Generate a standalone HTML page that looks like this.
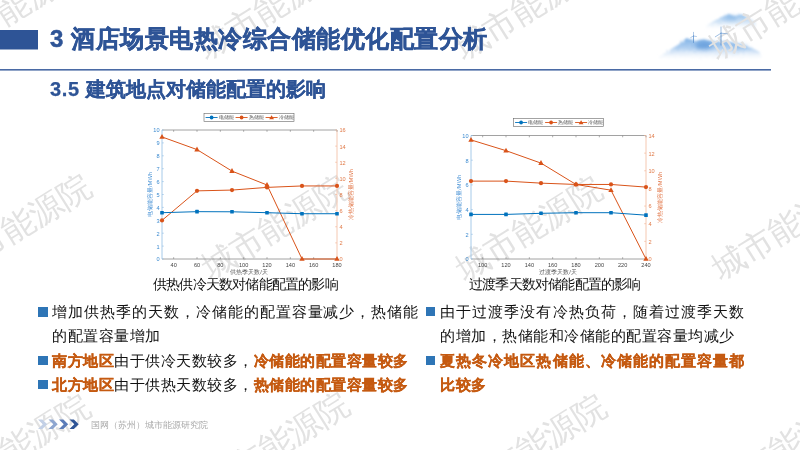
<!DOCTYPE html>
<html><head><meta charset="utf-8">
<style>
html,body{margin:0;padding:0;background:#fff;}
body{width:800px;height:450px;position:relative;overflow:hidden;font-family:"Liberation Sans",sans-serif;}
svg{position:absolute;left:0;top:0;will-change:transform;}
.wm{font-size:33px;fill:#e2e2e2;text-anchor:middle;dominant-baseline:central;font-family:"Liberation Sans",sans-serif;}
.tx{font-size:5.6px;fill:#444;text-anchor:middle;font-family:"Liberation Sans",sans-serif;}
.tl{font-size:5.6px;fill:#3b8ad0;text-anchor:end;font-family:"Liberation Sans",sans-serif;}
.tr{font-size:5.6px;fill:#e07a48;text-anchor:start;font-family:"Liberation Sans",sans-serif;}
.lg{font-size:4.7px;fill:#555;font-family:"Liberation Sans",sans-serif;}
.xl{font-size:5.7px;fill:#555;text-anchor:middle;font-family:"Liberation Sans",sans-serif;}
.yl{font-size:5.8px;fill:#4a93d6;text-anchor:middle;font-family:"Liberation Sans",sans-serif;}
.yr{font-size:5.8px;fill:#e2784a;text-anchor:middle;font-family:"Liberation Sans",sans-serif;}
.t{position:absolute;white-space:nowrap;will-change:transform;}
#title{left:50px;top:23px;font-size:24px;letter-spacing:0.5px;-webkit-text-stroke:0.5px #2e5496;font-weight:bold;color:#2e5496;}
#sub{left:50px;top:76px;font-size:20px;font-weight:bold;color:#2e5496;-webkit-text-stroke:0.25px #2e5496;}
.cap{font-size:13.8px;letter-spacing:-0.8px;color:#111;}
.bl{font-size:15px;color:#111;line-height:24px;letter-spacing:0.5px;}
.sq{position:absolute;width:9.3px;height:9.3px;background:#2e75b6;}
.or{color:#c55a11;font-weight:bold;-webkit-text-stroke:0.25px #c55a11;}
#foot{left:91px;top:418.7px;font-size:9px;color:#aaaaaa;}
</style></head><body>
<svg width="800" height="450" viewBox="0 0 800 450">
<defs>
<filter id="blur" x="-20%" y="-50%" width="140%" height="200%"><feGaussianBlur stdDeviation="2.5"/></filter>
<linearGradient id="chev" x1="0" x2="1"><stop offset="0" stop-color="#c9d6ea"/><stop offset="1" stop-color="#2e5496"/></linearGradient>
</defs>
<linearGradient id="mg1" x1="0" y1="0" x2="0" y2="1"><stop offset="0" stop-color="#7fb2e6"/><stop offset="0.45" stop-color="#b3d1f1"/><stop offset="1" stop-color="#ffffff" stop-opacity="0"/></linearGradient>
<linearGradient id="mg2" x1="0" y1="0" x2="0" y2="1"><stop offset="0" stop-color="#9cc5ee"/><stop offset="0.5" stop-color="#d5e6f7"/><stop offset="1" stop-color="#ffffff" stop-opacity="0"/></linearGradient>
<filter id="b1" x="-30%" y="-80%" width="160%" height="260%"><feTurbulence type="fractalNoise" baseFrequency="0.35" numOctaves="2" seed="4" result="n"/><feDisplacementMap in="SourceGraphic" in2="n" scale="3.5" result="d"/><feGaussianBlur in="d" stdDeviation="0.8"/></filter>
<filter id="b2" x="-50%" y="-100%" width="200%" height="300%"><feGaussianBlur stdDeviation="2.2"/></filter>
<g filter="url(#b1)">
<path d="M658,58 L668,51 L676,46 L681,43 L684,40 L687,38 L690,38.8 L693,40.5 L697,41 L700,40 L704,39.5 L708,40.5 L713,41.5 L718,41.5 L724,41 L730,42 L738,43.5 L746,46 L754,49 L760,52 L761,61 L658,61 Z" fill="url(#mg1)"/>
<path d="M706,26 C710,23 715,20 720,18 C724,15.5 728,14 731,15 C734,16 736,16.5 738,15 C741,14 744,15 747,17 C750,19 753,21 756,23 L756,30 L706,30 Z" fill="url(#mg2)"/>
</g>
<ellipse cx="704" cy="45.5" rx="9" ry="4" fill="#4a8ad4" opacity="0.6" filter="url(#b2)"/>
<ellipse cx="738" cy="46.5" rx="10" ry="2.5" fill="#6fa8e4" opacity="0.4" filter="url(#b2)"/>
<ellipse cx="731" cy="18" rx="7" ry="2.5" fill="#6ea6df" opacity="0.45" filter="url(#b2)"/>

<text transform="translate(13,8) rotate(-32)" class="wm">城市能源院</text>
<text transform="translate(270.5,7.5) rotate(-32)" class="wm">城市能源院</text>
<text transform="translate(528,8) rotate(-32)" class="wm">城市能源院</text>
<text transform="translate(782,8) rotate(-32)" class="wm">城市能源院</text>
<text transform="translate(18,226) rotate(-32)" class="wm">城市能源院</text>
<text transform="translate(274.5,227) rotate(-32)" class="wm">城市能源院</text>
<text transform="translate(529,228.5) rotate(-32)" class="wm">城市能源院</text>
<text transform="translate(785,228) rotate(-32)" class="wm">城市能源院</text>
<text transform="translate(17,446) rotate(-32)" class="wm">城市能源院</text>
<text transform="translate(276,444) rotate(-32)" class="wm">城市能源院</text>
<text transform="translate(533,446) rotate(-32)" class="wm">城市能源院</text>
<text transform="translate(786,446) rotate(-32)" class="wm">城市能源院</text>
<g stroke="#5f93cf" fill="none" stroke-linecap="round">
<line x1="693.5" y1="36" x2="693.5" y2="42.5" stroke-width="0.8"/>
<path d="M693.5,36 L690.8,37.4 M693.5,36 L696.4,36.5 M693.5,36 L693.5,32.3" stroke-width="0.5"/>
<line x1="721" y1="33.2" x2="721" y2="45" stroke-width="0.9"/>
<path d="M721,33.2 L715.3,36.8 M721,33.2 L727.3,33.8 M721,33.2 L721,27" stroke-width="0.6"/>
</g>
<rect x="0" y="30" width="38" height="19.5" fill="#2e5496"/>
<rect x="0" y="69" width="771" height="1.6" fill="#4a6aa5"/>
<line x1="162" y1="130" x2="337" y2="130" stroke="#8a8a8a" stroke-width="0.8"/>
<line x1="162" y1="259" x2="337" y2="259" stroke="#8a8a8a" stroke-width="0.8"/>
<line x1="162" y1="130" x2="162" y2="259" stroke="#9cc4e6" stroke-width="0.9"/>
<line x1="337" y1="130" x2="337" y2="259" stroke="#f4c2a8" stroke-width="0.9"/>
<line x1="173.67" y1="259" x2="173.67" y2="257.2" stroke="#8a8a8a" stroke-width="0.7"/>
<line x1="173.67" y1="130" x2="173.67" y2="131.8" stroke="#8a8a8a" stroke-width="0.7"/>
<text x="173.67" y="267" class="tx">40</text>
<line x1="197.00" y1="259" x2="197.00" y2="257.2" stroke="#8a8a8a" stroke-width="0.7"/>
<line x1="197.00" y1="130" x2="197.00" y2="131.8" stroke="#8a8a8a" stroke-width="0.7"/>
<text x="197.00" y="267" class="tx">60</text>
<line x1="220.33" y1="259" x2="220.33" y2="257.2" stroke="#8a8a8a" stroke-width="0.7"/>
<line x1="220.33" y1="130" x2="220.33" y2="131.8" stroke="#8a8a8a" stroke-width="0.7"/>
<text x="220.33" y="267" class="tx">80</text>
<line x1="243.67" y1="259" x2="243.67" y2="257.2" stroke="#8a8a8a" stroke-width="0.7"/>
<line x1="243.67" y1="130" x2="243.67" y2="131.8" stroke="#8a8a8a" stroke-width="0.7"/>
<text x="243.67" y="267" class="tx">100</text>
<line x1="267.00" y1="259" x2="267.00" y2="257.2" stroke="#8a8a8a" stroke-width="0.7"/>
<line x1="267.00" y1="130" x2="267.00" y2="131.8" stroke="#8a8a8a" stroke-width="0.7"/>
<text x="267.00" y="267" class="tx">120</text>
<line x1="290.33" y1="259" x2="290.33" y2="257.2" stroke="#8a8a8a" stroke-width="0.7"/>
<line x1="290.33" y1="130" x2="290.33" y2="131.8" stroke="#8a8a8a" stroke-width="0.7"/>
<text x="290.33" y="267" class="tx">140</text>
<line x1="313.67" y1="259" x2="313.67" y2="257.2" stroke="#8a8a8a" stroke-width="0.7"/>
<line x1="313.67" y1="130" x2="313.67" y2="131.8" stroke="#8a8a8a" stroke-width="0.7"/>
<text x="313.67" y="267" class="tx">160</text>
<line x1="337.00" y1="259" x2="337.00" y2="257.2" stroke="#8a8a8a" stroke-width="0.7"/>
<line x1="337.00" y1="130" x2="337.00" y2="131.8" stroke="#8a8a8a" stroke-width="0.7"/>
<text x="337.00" y="267" class="tx">180</text>
<line x1="162" y1="259.00" x2="163.8" y2="259.00" stroke="#9cc4e6" stroke-width="0.7"/>
<text x="159.5" y="261.40" class="tl">0</text>
<line x1="162" y1="246.10" x2="163.8" y2="246.10" stroke="#9cc4e6" stroke-width="0.7"/>
<text x="159.5" y="248.50" class="tl">1</text>
<line x1="162" y1="233.20" x2="163.8" y2="233.20" stroke="#9cc4e6" stroke-width="0.7"/>
<text x="159.5" y="235.60" class="tl">2</text>
<line x1="162" y1="220.30" x2="163.8" y2="220.30" stroke="#9cc4e6" stroke-width="0.7"/>
<text x="159.5" y="222.70" class="tl">3</text>
<line x1="162" y1="207.40" x2="163.8" y2="207.40" stroke="#9cc4e6" stroke-width="0.7"/>
<text x="159.5" y="209.80" class="tl">4</text>
<line x1="162" y1="194.50" x2="163.8" y2="194.50" stroke="#9cc4e6" stroke-width="0.7"/>
<text x="159.5" y="196.90" class="tl">5</text>
<line x1="162" y1="181.60" x2="163.8" y2="181.60" stroke="#9cc4e6" stroke-width="0.7"/>
<text x="159.5" y="184.00" class="tl">6</text>
<line x1="162" y1="168.70" x2="163.8" y2="168.70" stroke="#9cc4e6" stroke-width="0.7"/>
<text x="159.5" y="171.10" class="tl">7</text>
<line x1="162" y1="155.80" x2="163.8" y2="155.80" stroke="#9cc4e6" stroke-width="0.7"/>
<text x="159.5" y="158.20" class="tl">8</text>
<line x1="162" y1="142.90" x2="163.8" y2="142.90" stroke="#9cc4e6" stroke-width="0.7"/>
<text x="159.5" y="145.30" class="tl">9</text>
<line x1="162" y1="130.00" x2="163.8" y2="130.00" stroke="#9cc4e6" stroke-width="0.7"/>
<text x="159.5" y="132.40" class="tl">10</text>
<line x1="337" y1="259.00" x2="335.2" y2="259.00" stroke="#f2b99c" stroke-width="0.7"/>
<text x="339.5" y="261.40" class="tr">0</text>
<line x1="337" y1="242.88" x2="335.2" y2="242.88" stroke="#f2b99c" stroke-width="0.7"/>
<text x="339.5" y="245.28" class="tr">2</text>
<line x1="337" y1="226.75" x2="335.2" y2="226.75" stroke="#f2b99c" stroke-width="0.7"/>
<text x="339.5" y="229.15" class="tr">4</text>
<line x1="337" y1="210.62" x2="335.2" y2="210.62" stroke="#f2b99c" stroke-width="0.7"/>
<text x="339.5" y="213.03" class="tr">6</text>
<line x1="337" y1="194.50" x2="335.2" y2="194.50" stroke="#f2b99c" stroke-width="0.7"/>
<text x="339.5" y="196.90" class="tr">8</text>
<line x1="337" y1="178.38" x2="335.2" y2="178.38" stroke="#f2b99c" stroke-width="0.7"/>
<text x="339.5" y="180.78" class="tr">10</text>
<line x1="337" y1="162.25" x2="335.2" y2="162.25" stroke="#f2b99c" stroke-width="0.7"/>
<text x="339.5" y="164.65" class="tr">12</text>
<line x1="337" y1="146.12" x2="335.2" y2="146.12" stroke="#f2b99c" stroke-width="0.7"/>
<text x="339.5" y="148.53" class="tr">14</text>
<line x1="337" y1="130.00" x2="335.2" y2="130.00" stroke="#f2b99c" stroke-width="0.7"/>
<text x="339.5" y="132.40" class="tr">16</text>
<polyline points="162.00,136.93 197.00,149.59 232.00,171.12 267.00,184.99 302.00,259.00 337.00,259.00" fill="none" stroke="#d95319" stroke-width="1.0"/>
<polyline points="162.00,220.38 197.00,190.87 232.00,190.07 267.00,187.40 302.00,185.95 337.00,185.95" fill="none" stroke="#d95319" stroke-width="1.0"/>
<polyline points="162.00,212.69 197.00,211.66 232.00,211.79 267.00,212.69 302.00,213.72 337.00,213.72" fill="none" stroke="#0072bd" stroke-width="1.0"/>
<path d="M162.00,133.93 L164.70,138.73 L159.30,138.73Z" fill="#d95319"/>
<path d="M197.00,146.59 L199.70,151.39 L194.30,151.39Z" fill="#d95319"/>
<path d="M232.00,168.12 L234.70,172.92 L229.30,172.92Z" fill="#d95319"/>
<path d="M267.00,181.99 L269.70,186.79 L264.30,186.79Z" fill="#d95319"/>
<path d="M302.00,256.00 L304.70,260.80 L299.30,260.80Z" fill="#d95319"/>
<path d="M337.00,256.00 L339.70,260.80 L334.30,260.80Z" fill="#d95319"/>
<circle cx="162.00" cy="220.38" r="2.1" fill="#d95319"/>
<circle cx="197.00" cy="190.87" r="2.1" fill="#d95319"/>
<circle cx="232.00" cy="190.07" r="2.1" fill="#d95319"/>
<circle cx="267.00" cy="187.40" r="2.1" fill="#d95319"/>
<circle cx="302.00" cy="185.95" r="2.1" fill="#d95319"/>
<circle cx="337.00" cy="185.95" r="2.1" fill="#d95319"/>
<rect x="160.20" y="210.89" width="3.6" height="3.6" rx="0.5" fill="#0072bd"/>
<rect x="195.20" y="209.86" width="3.6" height="3.6" rx="0.5" fill="#0072bd"/>
<rect x="230.20" y="209.99" width="3.6" height="3.6" rx="0.5" fill="#0072bd"/>
<rect x="265.20" y="210.89" width="3.6" height="3.6" rx="0.5" fill="#0072bd"/>
<rect x="300.20" y="211.92" width="3.6" height="3.6" rx="0.5" fill="#0072bd"/>
<rect x="335.20" y="211.92" width="3.6" height="3.6" rx="0.5" fill="#0072bd"/>
<rect x="204" y="113.5" width="90" height="8" fill="#fff" stroke="#666" stroke-width="0.6"/>
<line x1="205.60" y1="117.5" x2="217.60" y2="117.5" stroke="#0072bd" stroke-width="0.9"/>
<circle cx="211.60" cy="117.5" r="1.9" fill="#0072bd"/>
<text x="218.80" y="119.3" class="lg">电储能</text>
<line x1="235.60" y1="117.5" x2="247.60" y2="117.5" stroke="#d95319" stroke-width="0.9"/>
<circle cx="241.60" cy="117.5" r="1.9" fill="#d95319"/>
<text x="248.80" y="119.3" class="lg">热储能</text>
<line x1="265.60" y1="117.5" x2="277.60" y2="117.5" stroke="#d95319" stroke-width="0.9"/>
<path d="M271.60,115.2 L274.00,119.2 L269.20,119.2Z" fill="#d95319"/>
<text x="278.80" y="119.3" class="lg">冷储能</text>
<text x="249" y="274" class="xl">供热季天数/天</text>
<text transform="translate(152,194.5) rotate(-90)" class="yl">电储能容量/MWh</text>
<text transform="translate(353,194.5) rotate(-90)" class="yr">冷热储能容量/MWh</text>
<line x1="471" y1="135.5" x2="646" y2="135.5" stroke="#8a8a8a" stroke-width="0.8"/>
<line x1="471" y1="259" x2="646" y2="259" stroke="#8a8a8a" stroke-width="0.8"/>
<line x1="471" y1="135.5" x2="471" y2="259" stroke="#9cc4e6" stroke-width="0.9"/>
<line x1="646" y1="135.5" x2="646" y2="259" stroke="#f4c2a8" stroke-width="0.9"/>
<line x1="482.67" y1="259" x2="482.67" y2="257.2" stroke="#8a8a8a" stroke-width="0.7"/>
<line x1="482.67" y1="135.5" x2="482.67" y2="137.3" stroke="#8a8a8a" stroke-width="0.7"/>
<text x="482.67" y="267" class="tx">100</text>
<line x1="506.00" y1="259" x2="506.00" y2="257.2" stroke="#8a8a8a" stroke-width="0.7"/>
<line x1="506.00" y1="135.5" x2="506.00" y2="137.3" stroke="#8a8a8a" stroke-width="0.7"/>
<text x="506.00" y="267" class="tx">120</text>
<line x1="529.33" y1="259" x2="529.33" y2="257.2" stroke="#8a8a8a" stroke-width="0.7"/>
<line x1="529.33" y1="135.5" x2="529.33" y2="137.3" stroke="#8a8a8a" stroke-width="0.7"/>
<text x="529.33" y="267" class="tx">140</text>
<line x1="552.67" y1="259" x2="552.67" y2="257.2" stroke="#8a8a8a" stroke-width="0.7"/>
<line x1="552.67" y1="135.5" x2="552.67" y2="137.3" stroke="#8a8a8a" stroke-width="0.7"/>
<text x="552.67" y="267" class="tx">160</text>
<line x1="576.00" y1="259" x2="576.00" y2="257.2" stroke="#8a8a8a" stroke-width="0.7"/>
<line x1="576.00" y1="135.5" x2="576.00" y2="137.3" stroke="#8a8a8a" stroke-width="0.7"/>
<text x="576.00" y="267" class="tx">180</text>
<line x1="599.33" y1="259" x2="599.33" y2="257.2" stroke="#8a8a8a" stroke-width="0.7"/>
<line x1="599.33" y1="135.5" x2="599.33" y2="137.3" stroke="#8a8a8a" stroke-width="0.7"/>
<text x="599.33" y="267" class="tx">200</text>
<line x1="622.67" y1="259" x2="622.67" y2="257.2" stroke="#8a8a8a" stroke-width="0.7"/>
<line x1="622.67" y1="135.5" x2="622.67" y2="137.3" stroke="#8a8a8a" stroke-width="0.7"/>
<text x="622.67" y="267" class="tx">220</text>
<line x1="646.00" y1="259" x2="646.00" y2="257.2" stroke="#8a8a8a" stroke-width="0.7"/>
<line x1="646.00" y1="135.5" x2="646.00" y2="137.3" stroke="#8a8a8a" stroke-width="0.7"/>
<text x="646.00" y="267" class="tx">240</text>
<line x1="471" y1="259.00" x2="472.8" y2="259.00" stroke="#9cc4e6" stroke-width="0.7"/>
<text x="468.5" y="261.40" class="tl">0</text>
<line x1="471" y1="234.30" x2="472.8" y2="234.30" stroke="#9cc4e6" stroke-width="0.7"/>
<text x="468.5" y="236.70" class="tl">2</text>
<line x1="471" y1="209.60" x2="472.8" y2="209.60" stroke="#9cc4e6" stroke-width="0.7"/>
<text x="468.5" y="212.00" class="tl">4</text>
<line x1="471" y1="184.90" x2="472.8" y2="184.90" stroke="#9cc4e6" stroke-width="0.7"/>
<text x="468.5" y="187.30" class="tl">6</text>
<line x1="471" y1="160.20" x2="472.8" y2="160.20" stroke="#9cc4e6" stroke-width="0.7"/>
<text x="468.5" y="162.60" class="tl">8</text>
<line x1="471" y1="135.50" x2="472.8" y2="135.50" stroke="#9cc4e6" stroke-width="0.7"/>
<text x="468.5" y="137.90" class="tl">10</text>
<line x1="646" y1="259.00" x2="644.2" y2="259.00" stroke="#f2b99c" stroke-width="0.7"/>
<text x="648.5" y="261.40" class="tr">0</text>
<line x1="646" y1="241.36" x2="644.2" y2="241.36" stroke="#f2b99c" stroke-width="0.7"/>
<text x="648.5" y="243.76" class="tr">2</text>
<line x1="646" y1="223.71" x2="644.2" y2="223.71" stroke="#f2b99c" stroke-width="0.7"/>
<text x="648.5" y="226.11" class="tr">4</text>
<line x1="646" y1="206.07" x2="644.2" y2="206.07" stroke="#f2b99c" stroke-width="0.7"/>
<text x="648.5" y="208.47" class="tr">6</text>
<line x1="646" y1="188.43" x2="644.2" y2="188.43" stroke="#f2b99c" stroke-width="0.7"/>
<text x="648.5" y="190.83" class="tr">8</text>
<line x1="646" y1="170.79" x2="644.2" y2="170.79" stroke="#f2b99c" stroke-width="0.7"/>
<text x="648.5" y="173.19" class="tr">10</text>
<line x1="646" y1="153.14" x2="644.2" y2="153.14" stroke="#f2b99c" stroke-width="0.7"/>
<text x="648.5" y="155.54" class="tr">12</text>
<line x1="646" y1="135.50" x2="644.2" y2="135.50" stroke="#f2b99c" stroke-width="0.7"/>
<text x="648.5" y="137.90" class="tr">14</text>
<polyline points="471.00,139.91 506.00,150.67 541.00,163.11 576.00,184.46 611.00,190.19 646.00,259.00" fill="none" stroke="#d95319" stroke-width="1.0"/>
<polyline points="471.00,181.11 506.00,181.11 541.00,183.14 576.00,184.46 611.00,184.46 646.00,187.11" fill="none" stroke="#d95319" stroke-width="1.0"/>
<polyline points="471.00,214.42 506.00,214.42 541.00,213.31 576.00,212.69 611.00,212.69 646.00,215.16" fill="none" stroke="#0072bd" stroke-width="1.0"/>
<path d="M471.00,136.91 L473.70,141.71 L468.30,141.71Z" fill="#d95319"/>
<path d="M506.00,147.67 L508.70,152.47 L503.30,152.47Z" fill="#d95319"/>
<path d="M541.00,160.11 L543.70,164.91 L538.30,164.91Z" fill="#d95319"/>
<path d="M576.00,181.46 L578.70,186.26 L573.30,186.26Z" fill="#d95319"/>
<path d="M611.00,187.19 L613.70,191.99 L608.30,191.99Z" fill="#d95319"/>
<path d="M646.00,256.00 L648.70,260.80 L643.30,260.80Z" fill="#d95319"/>
<circle cx="471.00" cy="181.11" r="2.1" fill="#d95319"/>
<circle cx="506.00" cy="181.11" r="2.1" fill="#d95319"/>
<circle cx="541.00" cy="183.14" r="2.1" fill="#d95319"/>
<circle cx="576.00" cy="184.46" r="2.1" fill="#d95319"/>
<circle cx="611.00" cy="184.46" r="2.1" fill="#d95319"/>
<circle cx="646.00" cy="187.11" r="2.1" fill="#d95319"/>
<rect x="469.20" y="212.62" width="3.6" height="3.6" rx="0.5" fill="#0072bd"/>
<rect x="504.20" y="212.62" width="3.6" height="3.6" rx="0.5" fill="#0072bd"/>
<rect x="539.20" y="211.50" width="3.6" height="3.6" rx="0.5" fill="#0072bd"/>
<rect x="574.20" y="210.89" width="3.6" height="3.6" rx="0.5" fill="#0072bd"/>
<rect x="609.20" y="210.89" width="3.6" height="3.6" rx="0.5" fill="#0072bd"/>
<rect x="644.20" y="213.36" width="3.6" height="3.6" rx="0.5" fill="#0072bd"/>
<rect x="513.5" y="118.5" width="90" height="8" fill="#fff" stroke="#666" stroke-width="0.6"/>
<line x1="515.10" y1="122.5" x2="527.10" y2="122.5" stroke="#0072bd" stroke-width="0.9"/>
<circle cx="521.10" cy="122.5" r="1.9" fill="#0072bd"/>
<text x="528.30" y="124.3" class="lg">电储能</text>
<line x1="545.10" y1="122.5" x2="557.10" y2="122.5" stroke="#d95319" stroke-width="0.9"/>
<circle cx="551.10" cy="122.5" r="1.9" fill="#d95319"/>
<text x="558.30" y="124.3" class="lg">热储能</text>
<line x1="575.10" y1="122.5" x2="587.10" y2="122.5" stroke="#d95319" stroke-width="0.9"/>
<path d="M581.10,120.2 L583.50,124.2 L578.70,124.2Z" fill="#d95319"/>
<text x="588.30" y="124.3" class="lg">冷储能</text>
<text x="558" y="274" class="xl">过渡季天数/天</text>
<text transform="translate(461,197.25) rotate(-90)" class="yl">电储能容量/MWh</text>
<text transform="translate(662,197.25) rotate(-90)" class="yr">冷热储能容量/MWh</text>
<g transform="translate(38,419.6)">
<path d="M0,0 L4.4,0 L9.2,4.7 L4.4,9.4 L0,9.4 L4.8,4.7Z" fill="#c3d0e6"/>
<path d="M10.5,0 L14.9,0 L19.7,4.7 L14.9,9.4 L10.5,9.4 L15.3,4.7Z" fill="#8ea6d0"/>
<path d="M21,0 L25.4,0 L30.2,4.7 L25.4,9.4 L21,9.4 L25.8,4.7Z" fill="#5a7bb8"/>
<path d="M31.5,0 L35.9,0 L40.7,4.7 L35.9,9.4 L31.5,9.4 L36.3,4.7Z" fill="#2e5496"/>
</g>
</svg>
<div class="t" id="title">3 酒店场景电热冷综合储能优化配置分析</div>
<div class="t" id="sub"><span style="letter-spacing:0.6px">3.5 </span>建筑地点对储能配置的影响</div>
<div class="t cap" style="left:153px;top:275.5px">供热供冷天数对储能配置的影响</div>
<div class="t cap" style="left:469px;top:275.5px">过渡季天数对储能配置的影响</div>
<div class="sq" style="left:38.3px;top:307.3px"></div>
<div class="t bl" style="left:52px;top:300px;letter-spacing:0.97px">增加供热季的天数，冷储能的配置容量减少，热储能</div>
<div class="t bl" style="left:52px;top:324px">的配置容量增加</div>
<div class="sq" style="left:38.3px;top:355.6px"></div>
<div class="t bl" style="left:52px;top:349px"><span class="or">南方地区</span>由于供冷天数较多，<span class="or">冷储能的配置容量较多</span></div>
<div class="sq" style="left:38.3px;top:380px"></div>
<div class="t bl" style="left:52px;top:373px"><span class="or">北方地区</span>由于供热天数较多，<span class="or">热储能的配置容量较多</span></div>
<div class="sq" style="left:425.8px;top:307.2px"></div>
<div class="t bl" style="left:439.8px;top:300px;letter-spacing:1.08px">由于过渡季没有冷热负荷，随着过渡季天数</div>
<div class="t bl" style="left:439.8px;top:324px">的增加，热储能和冷储能的配置容量均减少</div>
<div class="sq" style="left:425.8px;top:356px"></div>
<div class="t bl or" style="left:439.8px;top:349px;letter-spacing:1.08px">夏热冬冷地区热储能、冷储能的配置容量都</div>
<div class="t bl or" style="left:439.8px;top:373px">比较多</div>
<div class="t" id="foot">国网（苏州）城市能源研究院</div>
</body></html>
